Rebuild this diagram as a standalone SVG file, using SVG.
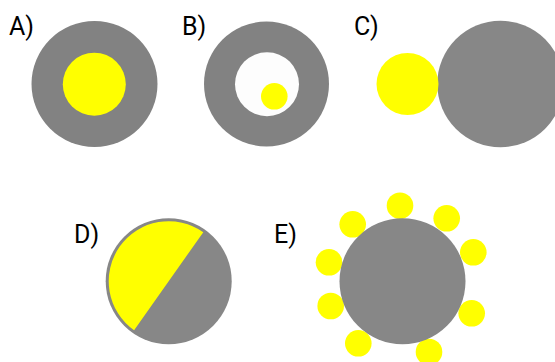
<svg xmlns="http://www.w3.org/2000/svg" width="555" height="362" viewBox="0 0 555 362">
<style>
.lbl{font-family:Roboto,"Liberation Sans",sans-serif;font-size:25px;fill:#000}
.g1{fill:#828282}
.g2{fill:#878787}
.y{fill:#ffff00}
</style>
<rect width="555" height="362" fill="#ffffff"/>
<g id="A">
<text class="lbl" x="9" y="35">A)</text>
<circle class="g1" cx="94.5" cy="84" r="63"/>
<circle class="y" cx="94.3" cy="84.2" r="31.5"/>
</g>
<g id="B">
<text class="lbl" x="182" y="35">B)</text>
<circle class="g1" cx="266.5" cy="84" r="62.5"/>
<circle fill="#fdfdfd" cx="267" cy="84.2" r="32"/>
<circle class="y" cx="274.3" cy="96.3" r="13.3"/>
</g>
<g id="C">
<text class="lbl" x="354" y="35">C)</text>
<circle class="g2" cx="500.5" cy="84" r="63.2"/>
<circle class="y" cx="407.5" cy="84" r="31"/>
</g>
<g id="D">
<text class="lbl" x="74" y="242.5">D)</text>
<circle class="g2" cx="168.7" cy="281.2" r="63"/>
<path class="y" d="M203.3,232.2 A59.5,59.5 0 0 0 134.1,330.2 Z"/>
</g>
<g id="E">
<text class="lbl" x="274" y="243">E)</text>
<g class="y">
<circle cx="400" cy="205.7" r="13.3"/>
<circle cx="446.7" cy="218.3" r="13.3"/>
<circle cx="473.3" cy="252.3" r="13.3"/>
<circle cx="471.7" cy="313.3" r="13.3"/>
<circle cx="429" cy="352" r="13.3"/>
<circle cx="358.3" cy="343.3" r="13.3"/>
<circle cx="330.7" cy="306" r="13.3"/>
<circle cx="329" cy="262.3" r="13.3"/>
<circle cx="352.7" cy="224.3" r="13.3"/>
</g>
<circle class="g2" cx="402.5" cy="281.3" r="63"/>
</g>
</svg>
